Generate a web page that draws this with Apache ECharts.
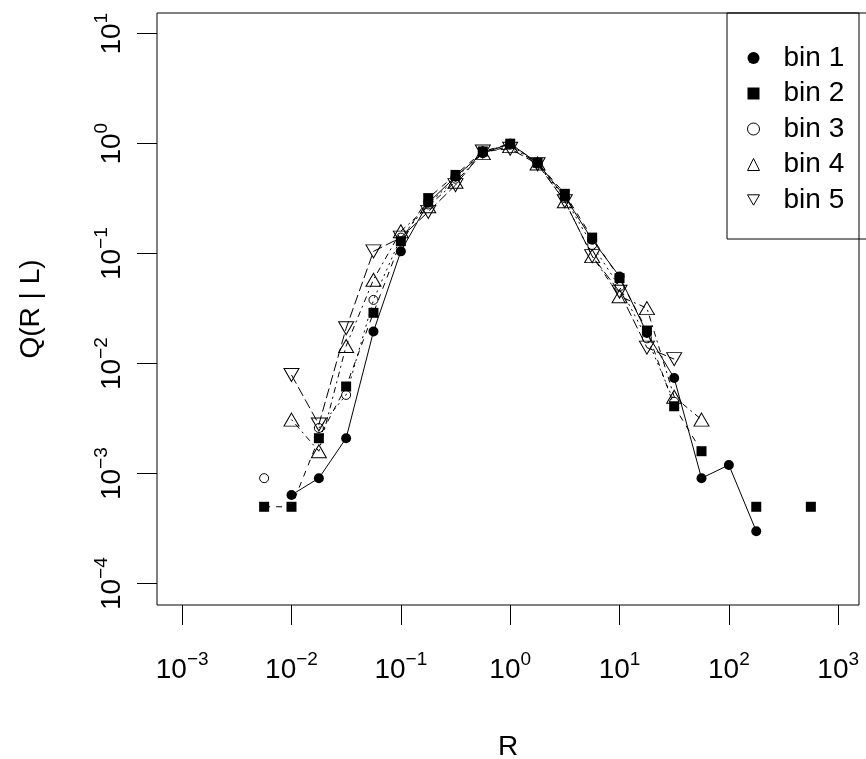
<!DOCTYPE html>
<html>
<head>
<meta charset="utf-8">
<script src="https://cdn.jsdelivr.net/npm/echarts@6/dist/echarts.min.js"></script>
<style>
  html, body { margin: 0; padding: 0; background: #fff; }
  #main { width: 866px; height: 759px; }
</style>
</head>
<body>
<div id="main"></div>
<script>
// R values (quarter-decade bins)
var rValues = [0.00562, 0.01, 0.0178, 0.0316, 0.0562, 0.1, 0.178, 0.316, 0.562, 1,
  1.78, 3.16, 5.62, 10, 17.8, 31.6, 56.2, 100, 178, 316, 562];

var bin1 = [null, 0.00064, 0.00091, 0.0021, 0.0196, 0.105, 0.29, 0.50, 0.82, 1.0,
  0.67, 0.33, 0.134, 0.062, 0.019, 0.0074, 0.00091, 0.0012, 0.0003, null, null];
var bin2 = [0.0005, 0.0005, 0.0021, 0.0062, 0.029, 0.13, 0.32, 0.52, 0.85, 1.0,
  0.67, 0.35, 0.14, 0.06, 0.02, 0.0041, 0.0016, null, 0.0005, null, 0.0005];
var bin3 = [0.00091, null, 0.0026, 0.0052, 0.038, 0.14, 0.28, 0.48, 0.85, 0.98,
  0.66, 0.32, 0.12, 0.05, 0.017, 0.0045, null, null, null, null, null];
var bin4 = [null, 0.0031, 0.0016, 0.0145, 0.058, 0.16, 0.27, 0.45, 0.82, 0.95,
  0.66, 0.30, 0.095, 0.041, 0.032, 0.005, 0.0031, null, null, null, null];
var bin5 = [null, 0.0079, 0.0028, 0.021, 0.105, 0.14, 0.24, 0.42, 0.85, 0.9,
  0.65, 0.30, 0.095, 0.045, 0.014, 0.011, null, null, null, null, null];

var xTicks = [1e-3, 1e-2, 1e-1, 1, 10, 100, 1000];
var yTicks = [1e-4, 1e-3, 1e-2, 1e-1, 1, 10];

var FONT = '"Liberation Sans", Arial, sans-serif';

function pairs(vals) {
  return rValues.map(function (r, i) {
    return [r, vals[i] == null ? '-' : vals[i]];
  });
}

function powLabel(v) {
  var e = Math.round(Math.log(v) / Math.LN10);
  var s = e < 0 ? '\u2212' + (-e) : '' + e;
  return '{b|10}{s|' + s + '}';
}

var richPow = {
  b: { fontSize: 28, fontFamily: FONT, color: '#000' },
  s: { fontSize: 19, fontFamily: FONT, color: '#000', padding: [0, 0, 22, 0] }
};

var openItem = { color: 'rgba(255,255,255,0)', borderColor: '#000', borderWidth: 1 };

var myChart = echarts.init(document.getElementById('main'));

var option = {
  animation: false,
  backgroundColor: '#fff',
  grid: {
    show: true,
    left: 157, right: 7, top: 13, bottom: 154,
    outerBoundsMode: 'none',
    containLabel: false,
    borderColor: '#000', borderWidth: 1,
    backgroundColor: 'transparent'
  },
  legend: {
    orient: 'vertical',
    left: 727, top: 13,
    padding: [31, 50, 25, 20],
    itemWidth: 12, itemHeight: 12,
    itemGap: 7.5,
    borderColor: '#000', borderWidth: 1,
    textStyle: {
      fontSize: 28, fontFamily: FONT, color: '#000', lineHeight: 28,
      padding: [0, 0, 0, 19]
    },
    data: [
      { name: 'bin 1', icon: 'circle', itemStyle: { color: '#000', borderWidth: 0 } },
      { name: 'bin 2', icon: 'rect', itemStyle: { color: '#000', borderWidth: 0 } },
      { name: 'bin 3', icon: 'circle', itemStyle: openItem },
      { name: 'bin 4', icon: 'triangle', itemStyle: openItem },
      { name: 'bin 5', icon: 'path://M0,0L10,0L5,8.66Z', itemStyle: openItem }
    ]
  },
  xAxis: {
    type: 'log',
    logBase: 10,
    min: Math.pow(10, -3.23),
    max: Math.pow(10, 3.19),
    name: 'R',
    nameLocation: 'middle',
    nameGap: 128,
    nameTextStyle: { fontSize: 28, fontFamily: FONT, color: '#000' },
    axisLine: { show: false },
    splitLine: { show: false },
    axisTick: {
      show: true, length: 20, inside: false,
      customValues: xTicks,
      lineStyle: { color: '#000', width: 1 }
    },
    axisLabel: {
      customValues: xTicks,
      margin: 45,
      formatter: powLabel,
      rich: richPow
    }
  },
  yAxis: {
    type: 'log',
    logBase: 10,
    min: Math.pow(10, -4.194),
    max: Math.pow(10, 1.188),
    name: 'Q(R | L)',
    nameLocation: 'middle',
    nameGap: 112,
    nameRotate: 90,
    nameTextStyle: { fontSize: 28, fontFamily: FONT, color: '#000' },
    axisLine: { show: false },
    splitLine: { show: false },
    axisTick: {
      show: true, length: 20, inside: false,
      customValues: yTicks,
      lineStyle: { color: '#000', width: 1 }
    },
    axisLabel: {
      customValues: yTicks,
      rotate: 90,
      margin: 24,
      formatter: powLabel,
      rich: richPow
    }
  },
  series: [
    {
      name: 'bin 1', type: 'line', data: pairs(bin1),
      symbol: 'circle', symbolSize: 10,
      itemStyle: { color: '#000' },
      lineStyle: { color: '#000', width: 1, type: 'solid' }
    },
    {
      name: 'bin 2', type: 'line', data: pairs(bin2),
      symbol: 'rect', symbolSize: 10,
      itemStyle: { color: '#000' },
      lineStyle: { color: '#000', width: 1, type: [6, 6] }
    },
    {
      name: 'bin 3', type: 'line', data: pairs(bin3),
      symbol: 'circle', symbolSize: 9,
      itemStyle: openItem,
      lineStyle: { color: '#000', width: 1, type: [2, 4] }
    },
    {
      name: 'bin 4', type: 'line', data: pairs(bin4),
      symbol: 'triangle', symbolSize: [15, 13],
      itemStyle: openItem,
      lineStyle: { color: '#000', width: 1, type: [2, 4, 6, 4] }
    },
    {
      name: 'bin 5', type: 'line', data: pairs(bin5),
      symbol: 'triangle', symbolSize: [15, 13], symbolRotate: 180,
      itemStyle: openItem,
      lineStyle: { color: '#000', width: 1, type: [10, 4] }
    }
  ]
};

myChart.setOption(option);
</script>
</body>
</html>
